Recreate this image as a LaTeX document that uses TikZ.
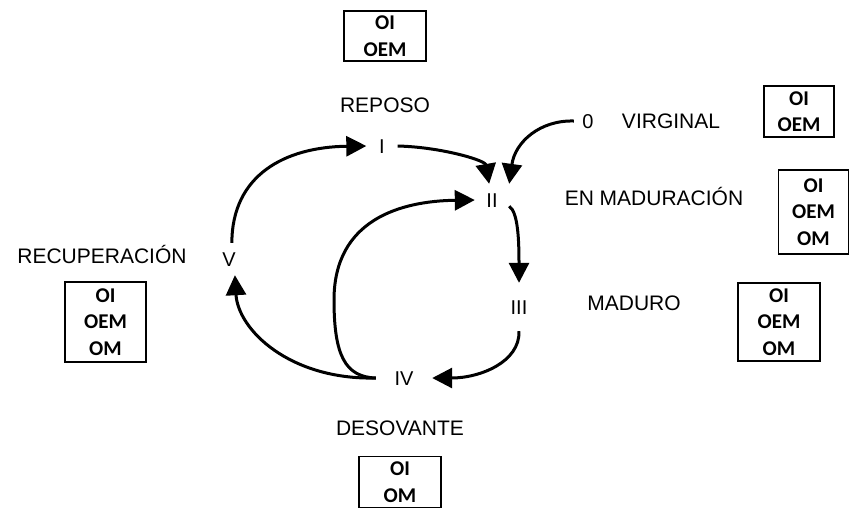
\documentclass[tikz,border=0pt]{standalone}
\usepackage{fontspec}
\setmainfont{Liberation Sans}
\newfontfamily\codefont{Carlito}
\usetikzlibrary{arrows.meta, positioning}

\begin{document}
\begin{tikzpicture}[
    x=1pt, y=-1pt,
    stage/.style={rectangle, inner sep=0pt, minimum width=30pt, minimum height=32pt, text height=14.3pt, text depth=0pt, font=\fontsize{20}{24}\selectfont},
    phase/.style={rectangle, inner sep=0pt, text height=15pt, text depth=0pt, font=\fontsize{21}{25}\selectfont},
    codes/.style={rectangle, draw=black, line width=1.6pt, align=center, inner sep=0pt, minimum width=82pt, font=\codefont\bfseries\fontsize{21}{26.5}\selectfont},
    arrow/.style={-{Triangle[length=20pt, width=20pt]}, line width=3pt}
]
\useasboundingbox (0,0) rectangle (850,507);

% cycle stages
\node (i) [stage, minimum width=31pt] at (382,146) {I};
\node (ii) [stage, minimum width=34pt] at (492,200) {II};
\node (iii) [stage, minimum height=48pt] at (519,307) {III};
\node (iv) [stage, minimum width=56pt] at (404,378) {IV};
\node (v) [stage] at (229,259) {V};
\node (zero) [stage, minimum width=28pt] at (588,121) {0};

% phase names
\node (reposo) [phase] at (385,104.5) {REPOSO};
\node (virginal) [phase] at (671,121) {VIRGINAL};
\node (enmad) [phase] at (654,198) {EN MADURACIÓN};
\node (maduro) [phase] at (634,303) {MADURO};
\node (recup) [phase] at (102,256) {RECUPERACIÓN};
\node (desov) [phase] at (400,428) {DESOVANTE};

% oocyte boxes
\node (reposobox) [codes, minimum height=50pt, above=35pt of reposo] {OI\\OEM};
\node (virginalbox) [codes, minimum width=70pt, minimum height=51pt] at (799,111.5) {OI\\OEM};
\node (enmadbox) [codes, minimum width=70pt, minimum height=84pt] at (813.5,212) {OI\\OEM\\OM};
\node (madurobox) [codes, minimum height=78pt] at (779,322) {OI\\OEM\\OM};
\node (recupbox) [codes, minimum width=81pt, minimum height=80pt, below=17.5pt of recup, xshift=3.5pt] {OI\\OEM\\OM};
\node (desovbox) [codes, minimum height=51pt, below=20pt of desov] {OI\\OM};

% arrows
\draw [arrow] (v.80) .. controls (232,175) and (285,147) .. (i.west);
\draw [arrow] (i.east) .. controls (440,147) and (485,160) .. (ii.100);
\draw [arrow] (zero.west) .. controls (540,120) and (515,142) .. (ii.north east);
\draw [arrow] (ii.-20) .. controls (518,212) and (519,240) .. (iii.north);
\draw [arrow] (iii.south) .. controls (520,362) and (480,378) .. (iv.east);
\draw [arrow] (iv.west) .. controls (290,380) and (238,330) .. (v.-70);
\coordinate (bend) at (334,300);
\draw [arrow] (iv.west) .. controls (345,377) and (334,355) .. (bend)
    .. controls (334,220) and (400,201) .. (ii.west);

\end{tikzpicture}
\end{document}
